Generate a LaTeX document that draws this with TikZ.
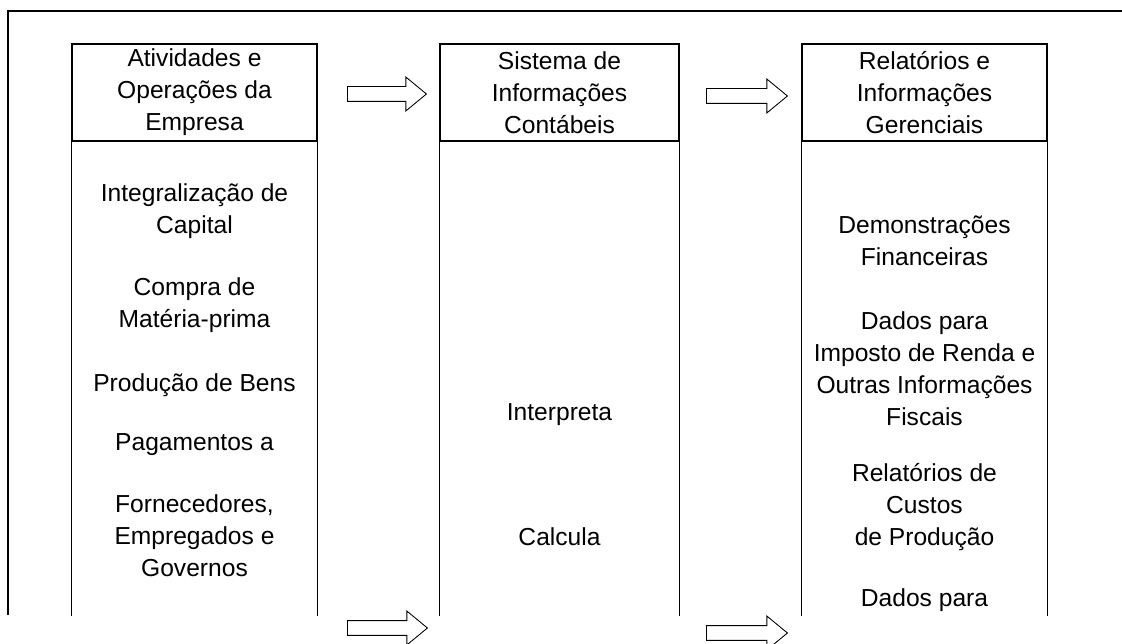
\documentclass[tikz,border=0pt]{standalone}
\usepackage{fontspec}
\setmainfont{Liberation Sans}
\usetikzlibrary{shapes.arrows, positioning}

\begin{document}
\begin{tikzpicture}[x=0.02cm, y=-0.02cm,
 font=\fontsize{14}{18.2}\selectfont,
 head box/.style={rectangle, draw, line width=0.8pt, minimum width=4.9cm,
  minimum height=1.94cm, inner sep=0pt, align=center},
 body text/.style={align=center, inner sep=0pt},
 block arrow/.style={single arrow, draw, line width=0.5pt, inner xsep=0pt,
  inner ysep=0.14cm, minimum width=0.66cm, single arrow head extend=0.19cm,
  single arrow tip angle=79, anchor=tail}]
  \useasboundingbox (0,0) rectangle (1122,644);
  \clip (0,0) rectangle (1122,644);

  % outer frame
  \draw[line width=1.5pt] (8,615) -- (8,11) -- (1122,11);

  % column heads
  \node[head box] (atividades) at (194.5,92.5) {Atividades e\\Operações da\\Empresa};
  \node[head box, minimum width=4.78cm] (sistema) at (559.5,92.5) {Sistema de\\Informações\\Contábeis};
  \node[head box] (relatorios) at (924.5,92.5) {Relatórios e\\Informações\\Gerenciais};

  % column sides
  \foreach \c in {atividades, sistema, relatorios} {
   \draw[line width=0.8pt] (\c.south west) -- ++(0,474);
   \draw[line width=0.8pt] (\c.south east) -- ++(0,474);}

  % left column
  \node[body text] (capital) at (194.5,211) {Integralização de\\Capital};
  \node[body text] (materia) at (194.5,305) {Compra de\\Matéria-prima};
  \node[body text] (producao) at (194.5,385) {Produção de Bens};
  \node[body text] (pagamentos) at (194.5,445) {Pagamentos a};
  \node[body text] (fornecedores) at (194.5,536) {Fornecedores,\\Empregados e\\Governos};

  % middle column
  \node[body text] (interpreta) at (559.5,415) {Interpreta};
  \node[body text] (calcula) at (559.5,537) {Calcula};

  % right column
  \node[body text] (demonstracoes) at (924.5,241) {Demonstrações\\Financeiras};
  \node[body text] (fiscais) at (924.5,369) {Dados para\\Imposto de Renda e\\Outras Informações\\Fiscais};
  \node[body text] (custos) at (924.5,507) {Relatórios de\\Custos\\de Produção};
  \node[body text] (dados) at (924.5,600) {Dados para};

  % block arrows
  \node[block arrow, minimum height=1.58cm] (seta1) at (347,94) {};
  \node[block arrow, minimum height=1.62cm] (seta2) at (706,96) {};
  \node[block arrow, minimum height=1.60cm] (seta3) at (347,628) {};
  \node[block arrow, minimum height=1.62cm] (seta4) at (706,633) {};
\end{tikzpicture}
\end{document}
